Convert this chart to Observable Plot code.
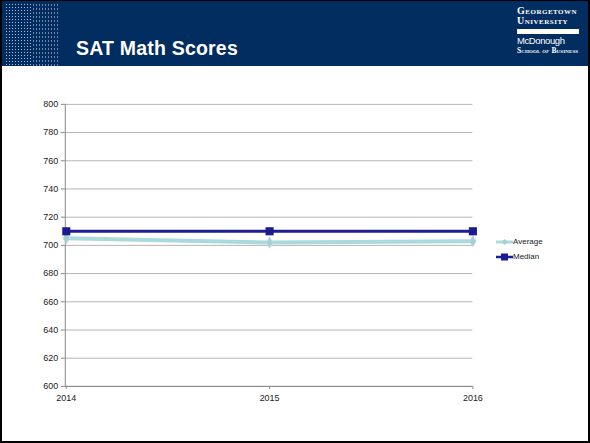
<!DOCTYPE html>
<html><head><meta charset="utf-8">
<script src="https://cdn.jsdelivr.net/npm/d3@7"></script>
<script src="https://cdn.jsdelivr.net/npm/@observablehq/plot@0.6"></script>
<style>
html,body{margin:0;padding:0;background:#fff;}
#slide{position:relative;width:590px;height:443px;box-sizing:border-box;border:2px solid #000;border-top-width:1px;background:#fff;overflow:hidden;font-family:"Liberation Sans",Arial,sans-serif;}
#header{position:absolute;left:0;top:0;width:586px;height:65px;background:#022d60;}
#pat1{position:absolute;left:3px;top:2px;width:27px;height:63px;
 background-image:radial-gradient(circle,#c9cfdb 0.9px,transparent 1px);background-size:3px 3px;opacity:0.85;}
#pat2{position:absolute;left:30px;top:2px;width:27px;height:63px;
 background-image:radial-gradient(circle,#8f9ab3 0.7px,transparent 0.9px);background-size:3px 4px;opacity:0.8;}
#title{position:absolute;left:74px;top:36px;color:#fff;font-weight:bold;font-size:19.5px;letter-spacing:0.2px;}
#logo{position:absolute;left:515px;top:5px;color:#fff;font-family:"Liberation Serif","DejaVu Serif",serif;font-weight:bold;}
#logo .u{font-size:10px;line-height:10px;font-variant:small-caps;letter-spacing:0.5px;}
#logo .bar{width:62px;height:5px;background:#fff;margin:3px 0 2px 0;}
#logo .m{font-family:"Liberation Sans",Arial,sans-serif;font-weight:normal;font-size:9.5px;line-height:10.5px;letter-spacing:-0.4px;}
#logo .s{font-size:7.5px;line-height:8.5px;font-variant:small-caps;letter-spacing:0.1px;}
#chart{position:absolute;left:-2px;top:65px;}
#legend{position:absolute;left:494px;top:233px;font-size:8px;color:#222;}
#legend div{height:15px;display:flex;align-items:center;}
</style></head><body>
<div id="slide">
 <div id="header"><div id="pat1"></div><div id="pat2"></div>
  <div id="title">SAT Math Scores</div>
  <div id="logo"><div class="u">Georgetown<br>University</div><div class="bar"></div><div class="m">McDonough</div><div class="s">School <i>of</i> Business</div></div>
 </div>
 <div id="chart"></div>
 <div id="legend"></div>
</div>
<script>
const years = ["2014","2015","2016"];
const average = [705, 702, 703];
const median = [710, 710, 710];
const yTicks = [600,620,640,660,680,700,720,740,760,780,800];
const seriesNames = ["Average","Median"];
const colors = {Average:"#abdadd", Median:"#1e1e94"};
const markerColors = {Average:"#a6cfd4", Median:"#1c1c8e"};

const rows = [];
years.forEach((y,i)=>{ rows.push({year:y, value:average[i], series:"Average"}); rows.push({year:y, value:median[i], series:"Median"}); });
const avgRows = rows.filter(d=>d.series==="Average");
const medRows = rows.filter(d=>d.series==="Median");

const chart = Plot.plot({
  width: 590, height: 376,
  marginLeft: 65, marginRight: 116, marginTop: 38, marginBottom: 55,
  style: {fontFamily:"'Liberation Sans',Arial,sans-serif", fontSize:"9px", color:"#222", background:"transparent"},
  x: {type:"point", domain: years, padding: 0},
  y: {domain:[600,800]},
  marks: [
    Plot.gridY(yTicks, {stroke:"#b5b5b5", strokeOpacity:1, strokeWidth:1}),
    Plot.axisY(yTicks, {tickSize:4, tickPadding:3, stroke:"#888", label:null, tickFormat:d=>String(d)}),
    Plot.axisX({tickSize:3, tickPadding:5, stroke:"#888", label:null}),
    Plot.ruleY([yTicks[0]], {stroke:"#888", strokeWidth:1}),
    Plot.frame({anchor:"left", stroke:"#888"}),
    Plot.line(avgRows, {x:"year", y:"value", stroke:colors.Average, strokeWidth:4}),
    Plot.dot(avgRows, {x:"year", y:"value", symbol:"diamond", r:3.6, fill:markerColors.Average, stroke:"#c8e4e6", strokeWidth:0.5}),
    Plot.line(medRows, {x:"year", y:"value", stroke:colors.Median, strokeWidth:3}),
    Plot.dot(medRows, {x:"year", y:"value", symbol:"square", r:4.6, fill:markerColors.Median})
  ]
});
document.getElementById("chart").appendChild(chart);

const leg = document.getElementById("legend");
seriesNames.forEach(n=>{
  const d = document.createElement("div");
  const sw = n==="Average"
    ? `<svg width="17" height="8"><line x1="0" y1="4" x2="17" y2="4" stroke="${colors.Average}" stroke-width="3"/><path d="M8.5,1 L11.5,4 L8.5,7 L5.5,4Z" fill="${markerColors.Average}"/></svg>`
    : `<svg width="17" height="8"><line x1="0" y1="4" x2="17" y2="4" stroke="${colors.Median}" stroke-width="2.5"/><rect x="5" y="0.5" width="7" height="7" fill="${markerColors.Median}"/></svg>`;
  d.innerHTML = sw + `<span>${n}</span>`;
  leg.appendChild(d);
});
</script>
</body></html>
